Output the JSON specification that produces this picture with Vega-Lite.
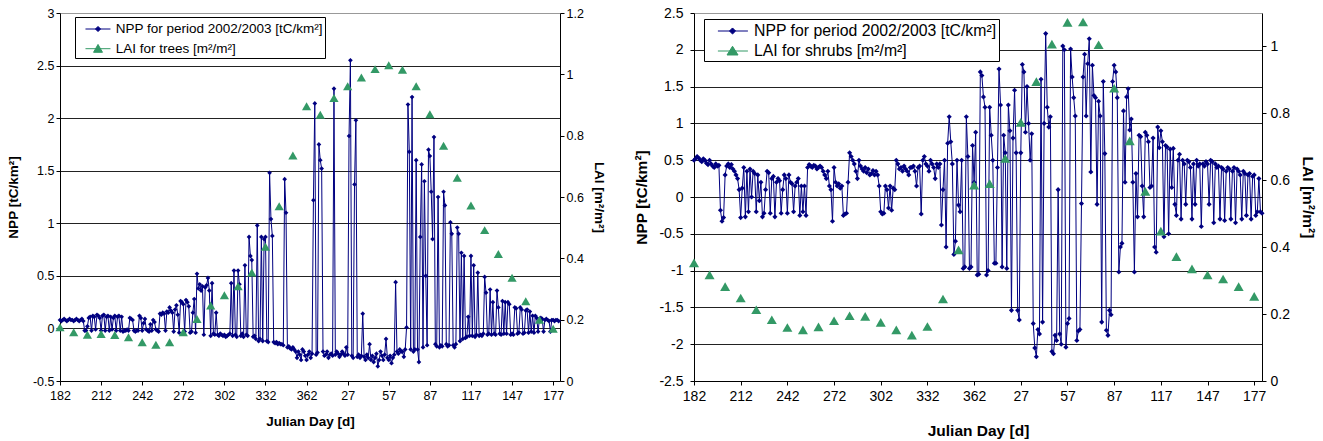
{
"$schema":"https://vega.github.io/schema/vega-lite/v6.json",
"background":"white",
"padding":{"left":6,"top":6,"right":5,"bottom":0},
"config":{"font":"Liberation Sans","view":{"stroke":null},"axis":{"labelFont":"Liberation Sans","titleFont":"Liberation Sans","labelColor":"#000","titleColor":"#000","domainColor":"#000","tickColor":"#000","titleFontWeight":"bold","labelOverlap":false}},
"datasets":{
"nppT":[{"d":0,"v":0.08},{"d":1,"v":0.07},{"d":2,"v":0.08},{"d":3,"v":0.09},{"d":4,"v":0.08},{"d":5,"v":0.07},{"d":6,"v":0.08},{"d":7,"v":0.09},{"d":8,"v":0.08},{"d":9,"v":0.08},
{"d":10,"v":0.07},{"d":11,"v":0.08},{"d":12,"v":0.09},{"d":13,"v":0.08},{"d":14,"v":0.07},{"d":15,"v":0.08},{"d":16,"v":0.09},{"d":17,"v":0.07},{"d":18,"v":-0.02},{"d":19,"v":-0.02},
{"d":20,"v":0.02},{"d":21,"v":0.1},{"d":22,"v":0.11},{"d":23,"v":-0.02},{"d":24,"v":0.12},{"d":25,"v":0.11},{"d":26,"v":-0.01},{"d":27,"v":0.13},{"d":28,"v":0.12},{"d":29,"v":0.1},
{"d":30,"v":-0.02},{"d":31,"v":0.12},{"d":32,"v":0.13},{"d":33,"v":-0.02},{"d":34,"v":0.11},{"d":35,"v":0.12},{"d":36,"v":-0.02},{"d":37,"v":0.11},{"d":38,"v":-0.01},{"d":39,"v":0.1},
{"d":40,"v":0.12},{"d":41,"v":-0.02},{"d":42,"v":0.11},{"d":43,"v":0.12},{"d":44,"v":-0.02},{"d":45,"v":0.11},{"d":46,"v":-0.03},{"d":47,"v":-0.02},{"d":48,"v":-0.02},{"d":49,"v":-0.01},
{"d":50,"v":-0.02},{"d":51,"v":0.1},{"d":52,"v":0.09},{"d":53,"v":0.08},{"d":54,"v":-0.02},{"d":55,"v":-0.03},{"d":56,"v":-0.02},{"d":57,"v":-0.02},{"d":58,"v":0.12},{"d":59,"v":0.1},
{"d":60,"v":-0.02},{"d":61,"v":0.05},{"d":62,"v":0.09},{"d":63,"v":-0.01},{"d":64,"v":-0.02},{"d":65,"v":-0.03},{"d":66,"v":0.04},{"d":67,"v":-0.02},{"d":68,"v":0.08},{"d":69,"v":0.06},
{"d":70,"v":-0.01},{"d":71,"v":-0.02},{"d":72,"v":-0.03},{"d":73,"v":0.14},{"d":74,"v":0.13},{"d":75,"v":0.15},{"d":76,"v":0.14},{"d":77,"v":-0.02},{"d":78,"v":0.16},{"d":79,"v":0.15},
{"d":80,"v":0.2},{"d":81,"v":0.17},{"d":82,"v":0.15},{"d":83,"v":-0.03},{"d":84,"v":0.18},{"d":85,"v":0.22},{"d":86,"v":0.13},{"d":87,"v":-0.04},{"d":88,"v":0.26},{"d":89,"v":0.25},
{"d":90,"v":0.23},{"d":91,"v":-0.03},{"d":92,"v":0.27},{"d":93,"v":0.25},{"d":94,"v":0.21},{"d":95,"v":-0.04},{"d":96,"v":-0.03},{"d":97,"v":0.15},{"d":98,"v":0.28},{"d":99,"v":-0.04},
{"d":100,"v":0.52},{"d":101,"v":0.38},{"d":102,"v":0.42},{"d":103,"v":0.36},{"d":104,"v":0.4},{"d":105,"v":-0.06},{"d":106,"v":0.39},{"d":107,"v":0.41},{"d":108,"v":0.48},{"d":109,"v":0.36},
{"d":110,"v":-0.07},{"d":111,"v":0.43},{"d":112,"v":-0.05},{"d":113,"v":-0.06},{"d":114,"v":0.15},{"d":115,"v":-0.06},{"d":116,"v":-0.07},{"d":117,"v":-0.05},{"d":118,"v":-0.06},{"d":119,"v":-0.07},
{"d":120,"v":-0.06},{"d":121,"v":-0.08},{"d":122,"v":-0.07},{"d":123,"v":-0.06},{"d":124,"v":-0.05},{"d":125,"v":0.43},{"d":126,"v":-0.07},{"d":127,"v":0.55},{"d":128,"v":-0.06},{"d":129,"v":-0.08},
{"d":130,"v":0.55},{"d":131,"v":0.42},{"d":132,"v":-0.07},{"d":133,"v":-0.05},{"d":134,"v":-0.08},{"d":135,"v":0.6},{"d":136,"v":-0.06},{"d":137,"v":-0.07},{"d":138,"v":0.87},{"d":139,"v":0.69},
{"d":140,"v":0.65},{"d":141,"v":-0.08},{"d":142,"v":-0.07},{"d":143,"v":-0.1},{"d":144,"v":0.98},{"d":145,"v":-0.12},{"d":146,"v":-0.1},{"d":147,"v":0.87},{"d":148,"v":-0.12},{"d":149,"v":0.85},
{"d":150,"v":0.87},{"d":151,"v":-0.12},{"d":152,"v":-0.13},{"d":153,"v":1.48},{"d":154,"v":1.04},{"d":155,"v":0.88},{"d":156,"v":-0.13},{"d":157,"v":-0.14},{"d":158,"v":-0.13},{"d":159,"v":-0.15},
{"d":160,"v":-0.14},{"d":161,"v":-0.15},{"d":162,"v":-0.15},{"d":163,"v":-0.16},{"d":164,"v":1.42},{"d":165,"v":1.1},{"d":166,"v":-0.18},{"d":167,"v":-0.17},{"d":168,"v":-0.19},{"d":169,"v":-0.2},
{"d":170,"v":-0.18},{"d":171,"v":-0.2},{"d":172,"v":-0.22},{"d":173,"v":-0.28},{"d":174,"v":-0.22},{"d":175,"v":-0.25},{"d":176,"v":-0.3},{"d":177,"v":-0.2},{"d":178,"v":-0.22},{"d":179,"v":-0.26},
{"d":180,"v":-0.3},{"d":181,"v":-0.25},{"d":182,"v":-0.22},{"d":183,"v":-0.28},{"d":184,"v":-0.24},{"d":185,"v":1.22},{"d":186,"v":2.14},{"d":187,"v":-0.25},{"d":188,"v":-0.23},{"d":189,"v":1.75},
{"d":190,"v":1.6},{"d":191,"v":1.52},{"d":192,"v":-0.22},{"d":193,"v":-0.26},{"d":194,"v":-0.25},{"d":195,"v":-0.22},{"d":196,"v":-0.28},{"d":197,"v":-0.25},{"d":198,"v":-0.24},{"d":199,"v":-0.26},
{"d":200,"v":2.28},{"d":201,"v":-0.25},{"d":202,"v":-0.22},{"d":203,"v":-0.24},{"d":204,"v":-0.27},{"d":205,"v":-0.25},{"d":206,"v":-0.22},{"d":207,"v":-0.24},{"d":208,"v":-0.26},{"d":209,"v":-0.18},
{"d":210,"v":-0.25},{"d":211,"v":1.83},{"d":212,"v":2.55},{"d":213,"v":-0.26},{"d":214,"v":-0.28},{"d":215,"v":1.37},{"d":216,"v":1.98},{"d":217,"v":-0.27},{"d":218,"v":-0.25},{"d":219,"v":-0.28},
{"d":220,"v":-0.26},{"d":221,"v":0.14},{"d":222,"v":-0.27},{"d":223,"v":-0.3},{"d":224,"v":-0.25},{"d":225,"v":-0.28},{"d":226,"v":-0.15},{"d":227,"v":-0.3},{"d":228,"v":-0.26},{"d":229,"v":-0.32},
{"d":230,"v":-0.28},{"d":231,"v":-0.24},{"d":232,"v":-0.36},{"d":233,"v":-0.3},{"d":234,"v":-0.22},{"d":235,"v":-0.26},{"d":236,"v":-0.3},{"d":237,"v":-0.25},{"d":238,"v":-0.1},{"d":239,"v":-0.28},
{"d":240,"v":-0.3},{"d":241,"v":-0.26},{"d":242,"v":-0.33},{"d":243,"v":-0.28},{"d":244,"v":-0.25},{"d":245,"v":0.44},{"d":246,"v":-0.22},{"d":247,"v":-0.24},{"d":248,"v":-0.2},{"d":249,"v":-0.22},
{"d":250,"v":-0.22},{"d":251,"v":-0.27},{"d":252,"v":-0.2},{"d":253,"v":0.01},{"d":254,"v":2.13},{"d":255,"v":1.68},{"d":256,"v":-0.2},{"d":257,"v":2.2},{"d":258,"v":-0.22},{"d":259,"v":-0.2},
{"d":260,"v":1.6},{"d":261,"v":-0.2},{"d":262,"v":-0.32},{"d":263,"v":0.87},{"d":264,"v":1.56},{"d":265,"v":-0.18},{"d":266,"v":1.4},{"d":267,"v":0.5},{"d":268,"v":-0.16},{"d":269,"v":1.7},
{"d":270,"v":1.64},{"d":271,"v":1.3},{"d":272,"v":0.85},{"d":273,"v":1.82},{"d":274,"v":-0.15},{"d":275,"v":-0.17},{"d":276,"v":1.25},{"d":277,"v":-0.18},{"d":278,"v":-0.16},{"d":279,"v":-0.17},
{"d":280,"v":1.3},{"d":281,"v":1.17},{"d":282,"v":-0.15},{"d":283,"v":-0.17},{"d":284,"v":-0.16},{"d":285,"v":1.01},{"d":286,"v":0.9},{"d":287,"v":-0.16},{"d":288,"v":-0.18},{"d":289,"v":-0.15},
{"d":290,"v":0.96},{"d":291,"v":0.9},{"d":292,"v":-0.12},{"d":293,"v":0.72},{"d":294,"v":-0.1},{"d":295,"v":0.69},{"d":296,"v":-0.09},{"d":297,"v":-0.08},{"d":298,"v":0.11},{"d":299,"v":-0.07},
{"d":300,"v":0.69},{"d":301,"v":-0.07},{"d":302,"v":0.6},{"d":303,"v":-0.08},{"d":304,"v":-0.06},{"d":305,"v":0.53},{"d":306,"v":-0.07},{"d":307,"v":-0.06},{"d":308,"v":-0.07},{"d":309,"v":-0.05},
{"d":310,"v":0.49},{"d":311,"v":0.34},{"d":312,"v":-0.06},{"d":313,"v":-0.05},{"d":314,"v":0.37},{"d":315,"v":-0.06},{"d":316,"v":0.25},{"d":317,"v":-0.05},{"d":318,"v":-0.06},{"d":319,"v":0.36},
{"d":320,"v":0.2},{"d":321,"v":-0.05},{"d":322,"v":-0.06},{"d":323,"v":0.26},{"d":324,"v":-0.05},{"d":325,"v":0.25},{"d":326,"v":-0.05},{"d":327,"v":0.25},{"d":328,"v":0.23},{"d":329,"v":-0.06},
{"d":330,"v":-0.05},{"d":331,"v":-0.06},{"d":332,"v":0.2},{"d":333,"v":0.19},{"d":334,"v":-0.05},{"d":335,"v":-0.04},{"d":336,"v":0.2},{"d":337,"v":0.18},{"d":338,"v":-0.05},{"d":339,"v":-0.04},
{"d":340,"v":0.17},{"d":341,"v":0.18},{"d":342,"v":-0.04},{"d":343,"v":0.16},{"d":344,"v":-0.03},{"d":345,"v":0.12},{"d":346,"v":-0.04},{"d":347,"v":0.12},{"d":348,"v":0.1},{"d":349,"v":-0.03},
{"d":350,"v":0.09},{"d":351,"v":0.1},{"d":352,"v":0.09},{"d":353,"v":-0.03},{"d":354,"v":0.08},{"d":355,"v":0.09},{"d":356,"v":0.08},{"d":357,"v":0.07},{"d":358,"v":-0.03},{"d":359,"v":0.08},
{"d":360,"v":0.08},{"d":361,"v":0.07},{"d":362,"v":0.08},{"d":363,"v":0.08},{"d":364,"v":0.07}],
"laiT":[{"d":0,"v":0.175},{"d":10,"v":0.159},{"d":20,"v":0.151},{"d":30,"v":0.153},{"d":40,"v":0.15},{"d":50,"v":0.143},{"d":60,"v":0.126},{"d":70,"v":0.118},{"d":80,"v":0.126},{"d":90,"v":0.159},{"d":100,"v":0.202},{"d":110,"v":0.246},{"d":120,"v":0.28},{"d":130,"v":0.309},{"d":140,"v":0.354},{"d":150,"v":0.438},{"d":160,"v":0.57},{"d":170,"v":0.735},{"d":180,"v":0.896},{"d":190,"v":0.868},{"d":200,"v":0.923},{"d":210,"v":0.961},{"d":220,"v":0.99},{"d":230,"v":1.017},{"d":240,"v":1.03},{"d":250,"v":1.015},{"d":260,"v":0.961},{"d":270,"v":0.87},{"d":280,"v":0.767},{"d":290,"v":0.663},{"d":300,"v":0.572},{"d":310,"v":0.492},{"d":320,"v":0.414},{"d":330,"v":0.337},{"d":340,"v":0.26},{"d":350,"v":0.2},{"d":360,"v":0.17}],
"nppS":[{"d":0,"v":0.5},{"d":1,"v":0.52},{"d":2,"v":0.55},{"d":3,"v":0.53},{"d":4,"v":0.5},{"d":5,"v":0.48},{"d":6,"v":0.52},{"d":7,"v":0.5},{"d":8,"v":0.46},{"d":9,"v":0.44},
{"d":10,"v":0.5},{"d":11,"v":0.45},{"d":12,"v":0.42},{"d":13,"v":0.4},{"d":14,"v":0.45},{"d":15,"v":0.42},{"d":16,"v":0.43},{"d":17,"v":-0.18},{"d":18,"v":-0.33},{"d":19,"v":-0.28},
{"d":20,"v":0.3},{"d":21,"v":0.42},{"d":22,"v":0.45},{"d":23,"v":0.4},{"d":24,"v":0.44},{"d":25,"v":0.38},{"d":26,"v":0.35},{"d":27,"v":0.3},{"d":28,"v":0.25},{"d":29,"v":0.1},
{"d":30,"v":-0.28},{"d":31,"v":0.12},{"d":32,"v":0.4},{"d":33,"v":-0.27},{"d":34,"v":0.35},{"d":35,"v":-0.2},{"d":36,"v":0.38},{"d":37,"v":0},{"d":38,"v":0.35},{"d":39,"v":0.32},
{"d":40,"v":-0.2},{"d":41,"v":0.3},{"d":42,"v":-0.05},{"d":43,"v":0.2},{"d":44,"v":-0.27},{"d":45,"v":-0.22},{"d":46,"v":0.1},{"d":47,"v":0.35},{"d":48,"v":0.33},{"d":49,"v":-0.22},
{"d":50,"v":0.25},{"d":51,"v":0.28},{"d":52,"v":-0.27},{"d":53,"v":0.2},{"d":54,"v":0.25},{"d":55,"v":0.22},{"d":56,"v":-0.22},{"d":57,"v":0.1},{"d":58,"v":0.3},{"d":59,"v":0.25},
{"d":60,"v":-0.22},{"d":61,"v":0.3},{"d":62,"v":0.2},{"d":63,"v":0.18},{"d":64,"v":-0.2},{"d":65,"v":0.15},{"d":66,"v":0.2},{"d":67,"v":0.25},{"d":68,"v":-0.25},{"d":69,"v":0.15},
{"d":70,"v":-0.2},{"d":71,"v":0.15},{"d":72,"v":-0.25},{"d":73,"v":0.4},{"d":74,"v":0.44},{"d":75,"v":0.42},{"d":76,"v":0.4},{"d":77,"v":0.43},{"d":78,"v":0.42},{"d":79,"v":0.38},
{"d":80,"v":0.4},{"d":81,"v":0.42},{"d":82,"v":0.4},{"d":83,"v":0.35},{"d":84,"v":0.3},{"d":85,"v":0.25},{"d":86,"v":0.35},{"d":87,"v":0.15},{"d":88,"v":0.1},{"d":89,"v":-0.33},
{"d":90,"v":0.4},{"d":91,"v":0.2},{"d":92,"v":0.15},{"d":93,"v":0.18},{"d":94,"v":0.12},{"d":95,"v":0.15},{"d":96,"v":-0.25},{"d":97,"v":-0.23},{"d":98,"v":-0.22},{"d":99,"v":0.2},
{"d":100,"v":0.6},{"d":101,"v":0.55},{"d":102,"v":0.5},{"d":103,"v":0.45},{"d":104,"v":0.35},{"d":105,"v":0.25},{"d":106,"v":0.5},{"d":107,"v":0.42},{"d":108,"v":0.38},{"d":109,"v":0.35},
{"d":110,"v":0.4},{"d":111,"v":0.33},{"d":112,"v":0.38},{"d":113,"v":0.3},{"d":114,"v":0.32},{"d":115,"v":0.36},{"d":116,"v":0.3},{"d":117,"v":0.35},{"d":118,"v":0.3},{"d":119,"v":0.15},
{"d":120,"v":-0.2},{"d":121,"v":-0.23},{"d":122,"v":-0.22},{"d":123,"v":0.15},{"d":124,"v":0.1},{"d":125,"v":-0.15},{"d":126,"v":0.15},{"d":127,"v":-0.18},{"d":128,"v":0.12},{"d":129,"v":0.1},
{"d":130,"v":0.5},{"d":131,"v":0.45},{"d":132,"v":0.38},{"d":133,"v":0.4},{"d":134,"v":0.35},{"d":135,"v":0.42},{"d":136,"v":0.38},{"d":137,"v":0.35},{"d":138,"v":0.3},{"d":139,"v":0.4},
{"d":140,"v":0.4},{"d":141,"v":0.42},{"d":142,"v":0.35},{"d":143,"v":0.15},{"d":144,"v":0.4},{"d":145,"v":0.42},{"d":146,"v":-0.23},{"d":147,"v":0.5},{"d":148,"v":0.55},{"d":149,"v":0.45},
{"d":150,"v":0.42},{"d":151,"v":0.35},{"d":152,"v":0.5},{"d":153,"v":0.45},{"d":154,"v":0.4},{"d":155,"v":0.25},{"d":156,"v":0.45},{"d":157,"v":0.4},{"d":158,"v":0.45},{"d":159,"v":-0.38},
{"d":160,"v":0.1},{"d":161,"v":0.5},{"d":162,"v":-0.68},{"d":163,"v":0.73},{"d":164,"v":1.09},{"d":165,"v":0.75},{"d":166,"v":0.45},{"d":167,"v":-0.78},{"d":168,"v":-0.6},{"d":169,"v":0.5},
{"d":170,"v":-0.11},{"d":171,"v":-0.2},{"d":172,"v":0.5},{"d":173,"v":-0.97},{"d":174,"v":-0.95},{"d":175,"v":1.09},{"d":176,"v":0.55},{"d":177,"v":-0.97},{"d":178,"v":-0.95},{"d":179,"v":0.7},
{"d":180,"v":0.2},{"d":181,"v":0.88},{"d":182,"v":-1.06},{"d":183,"v":-1.05},{"d":184,"v":1.7},{"d":185,"v":1.65},{"d":186,"v":1.36},{"d":187,"v":1.22},{"d":188,"v":-1.06},{"d":189,"v":-1},
{"d":190,"v":1.22},{"d":191,"v":0.84},{"d":192,"v":0.5},{"d":193,"v":-0.9},{"d":194,"v":-0.9},{"d":195,"v":0.4},{"d":196,"v":1.74},{"d":197,"v":1.25},{"d":198,"v":-0.95},{"d":199,"v":0.84},
{"d":200,"v":0.6},{"d":201,"v":-0.97},{"d":202,"v":1.25},{"d":203,"v":0.9},{"d":204,"v":-1.54},{"d":205,"v":0.8},{"d":206,"v":1.45},{"d":207,"v":0.6},{"d":208,"v":-1.54},{"d":209,"v":-1.67},
{"d":210,"v":0.6},{"d":211,"v":1.8},{"d":212,"v":1.7},{"d":213,"v":0.88},{"d":214,"v":1.5},{"d":215,"v":1},{"d":216,"v":0.5},{"d":217,"v":0.86},{"d":218,"v":-1.72},{"d":219,"v":-2.05},
{"d":220,"v":-2.17},{"d":221,"v":-1.8},{"d":222,"v":-1.86},{"d":223,"v":1.6},{"d":224,"v":-1.7},{"d":225,"v":1},{"d":226,"v":2.22},{"d":227,"v":1.22},{"d":228,"v":0.95},{"d":229,"v":1.09},
{"d":230,"v":-2.1},{"d":231,"v":-2.13},{"d":232,"v":-1.88},{"d":233,"v":-1.95},{"d":234,"v":0.1},{"d":235,"v":-1.86},{"d":236,"v":-2},{"d":237,"v":2.05},{"d":238,"v":2},{"d":239,"v":-2.04},
{"d":240,"v":-1.72},{"d":241,"v":-1.65},{"d":242,"v":2.01},{"d":243,"v":1.63},{"d":244,"v":1.35},{"d":245,"v":1.1},{"d":246,"v":-1.95},{"d":247,"v":-1.82},{"d":248,"v":-1.8},{"d":249,"v":-0.09},
{"d":250,"v":1.63},{"d":251,"v":1.94},{"d":252,"v":1.1},{"d":253,"v":1.81},{"d":254,"v":2.15},{"d":255,"v":0.34},{"d":256,"v":1.79},{"d":257,"v":1.38},{"d":258,"v":1.35},{"d":259,"v":-0.1},
{"d":260,"v":1.3},{"d":261,"v":1.1},{"d":262,"v":-1.7},{"d":263,"v":1.57},{"d":264,"v":0.59},{"d":265,"v":-1.81},{"d":266,"v":-1.88},{"d":267,"v":-1.54},{"d":268,"v":-1.6},{"d":269,"v":1.57},
{"d":270,"v":1.79},{"d":271,"v":1.7},{"d":272,"v":1.35},{"d":273,"v":-1.02},{"d":274,"v":-0.68},{"d":275,"v":-0.63},{"d":276,"v":1.17},{"d":277,"v":0.2},{"d":278,"v":1.36},{"d":279,"v":1.47},
{"d":280,"v":0.91},{"d":281,"v":1.06},{"d":282,"v":0.2},{"d":283,"v":-1.02},{"d":284,"v":0.32},{"d":285,"v":-0.27},{"d":286,"v":0.84},{"d":287,"v":0.82},{"d":288,"v":0.15},{"d":289,"v":-0.27},
{"d":290,"v":0.88},{"d":291,"v":0.84},{"d":292,"v":0.75},{"d":293,"v":0.13},{"d":294,"v":0.15},{"d":295,"v":0.8},{"d":296,"v":-0.68},{"d":297,"v":-0.75},{"d":298,"v":0.95},{"d":299,"v":0.67},
{"d":300,"v":0.9},{"d":301,"v":0.75},{"d":302,"v":-0.54},{"d":303,"v":0.7},{"d":304,"v":0.68},{"d":305,"v":-0.5},{"d":306,"v":0.65},{"d":307,"v":0.13},{"d":308,"v":0.66},{"d":309,"v":-0.1},
{"d":310,"v":-0.25},{"d":311,"v":0.5},{"d":312,"v":0.58},{"d":313,"v":-0.3},{"d":314,"v":0.5},{"d":315,"v":0.45},{"d":316,"v":-0.1},{"d":317,"v":0.5},{"d":318,"v":0.48},{"d":319,"v":0.4},
{"d":320,"v":-0.3},{"d":321,"v":0.45},{"d":322,"v":-0.1},{"d":323,"v":0.5},{"d":324,"v":0.42},{"d":325,"v":0.45},{"d":326,"v":-0.4},{"d":327,"v":0.45},{"d":328,"v":0.42},{"d":329,"v":0.48},
{"d":330,"v":0.45},{"d":331,"v":-0.1},{"d":332,"v":0.5},{"d":333,"v":0.48},{"d":334,"v":-0.35},{"d":335,"v":0.45},{"d":336,"v":0.4},{"d":337,"v":0.42},{"d":338,"v":-0.3},{"d":339,"v":0.4},
{"d":340,"v":0.38},{"d":341,"v":-0.32},{"d":342,"v":0.35},{"d":343,"v":0.4},{"d":344,"v":0.38},{"d":345,"v":-0.3},{"d":346,"v":0.35},{"d":347,"v":0.4},{"d":348,"v":-0.35},{"d":349,"v":0.38},
{"d":350,"v":0.35},{"d":351,"v":0.3},{"d":352,"v":-0.3},{"d":353,"v":0.35},{"d":354,"v":0.32},{"d":355,"v":-0.25},{"d":356,"v":0.3},{"d":357,"v":0.32},{"d":358,"v":-0.3},{"d":359,"v":0.28},
{"d":360,"v":0.3},{"d":361,"v":-0.25},{"d":362,"v":-0.2},{"d":363,"v":0.25},{"d":364,"v":-0.2},{"d":365,"v":-0.22}],
"laiS":[{"d":0,"v":0.353},{"d":10,"v":0.317},{"d":20,"v":0.282},{"d":30,"v":0.248},{"d":40,"v":0.213},{"d":50,"v":0.183},{"d":60,"v":0.16},{"d":70,"v":0.153},{"d":80,"v":0.162},{"d":90,"v":0.18},{"d":100,"v":0.195},{"d":110,"v":0.193},{"d":120,"v":0.175},{"d":130,"v":0.153},{"d":140,"v":0.137},{"d":150,"v":0.163},{"d":160,"v":0.245},{"d":170,"v":0.392},{"d":180,"v":0.585},{"d":190,"v":0.59},{"d":200,"v":0.665},{"d":210,"v":0.773},{"d":220,"v":0.895},{"d":230,"v":1.007},{"d":240,"v":1.072},{"d":250,"v":1.073},{"d":260,"v":1.005},{"d":270,"v":0.875},{"d":280,"v":0.718},{"d":290,"v":0.567},{"d":300,"v":0.448},{"d":310,"v":0.372},{"d":320,"v":0.335},{"d":330,"v":0.317},{"d":340,"v":0.305},{"d":350,"v":0.282},{"d":360,"v":0.253}]
},
"hconcat":[
{
"width":500,"height":368,
"encoding":{"x":{"field":"d","type":"quantitative","scale":{"domain":[0,365],"nice":false,"zero":false},
 "axis":{"values":[0,30,60,90,120,150,180,210,240,270,300,330,360],"tickCount":30,"labelExpr":"(datum.value + 182 > 365 ? datum.value + 182 - 365 : datum.value + 182) + ''","title":"Julian Day [d]","grid":false,"tickSize":4,"labelFontSize":12.5,"titleFontSize":13.5,"labelPadding":4,"titlePadding":13,"labelFlush":false,"labelOverlap":false}}},
"layer":[
 {"layer":[
  {"data":{"name":"nppT"},"mark":{"type":"line","strokeWidth":1},
   "encoding":{"y":{"field":"v","type":"quantitative","scale":{"domain":[-0.5,3],"nice":false,"zero":false},
     "axis":{"values":[-0.5,0,0.5,1,1.5,2,2.5,3],"tickCount":30,"labelExpr":"datum.value + ''","title":"NPP [tC/km²]","grid":true,"gridColor":{"condition":{"test":"datum.value === 3","value":"#999999"},"value":"#222222"},"tickSize":4,"labelFontSize":12.5,"titleFontSize":13.5,"titlePadding":12,"labelFlush":false,"labelOverlap":false}},
    "color":{"datum":"NPP for period 2002/2003 [tC/km²]","type":"nominal","scale":{"domain":["NPP for period 2002/2003 [tC/km²]","LAI for trees [m²/m²]"],"range":["#000080","#339966"]},
     "legend":{"title":null,"orient":"none","legendX":15,"legendY":4,"direction":"vertical","strokeColor":"#000","fillColor":"#fff","padding":2,"symbolSize":361,"rowPadding":2.7,"labelOffset":18.7,"labelFont":"Liberation Sans","labelFontSize":13.5,"labelColor":"#000","labelLimit":400,
      "encode":{"symbols":{"update":{
        "shape":{"signal":"indexof(datum.value,'NPP')===0 ? 'M-0.16,0H2.47M1.16,-0.27L1.43,0L1.16,0.27L0.89,0Z' : 'M-0.16,0H2.47M1.16,-0.45L1.63,0.38L0.69,0.38Z'"},
        "fill":{"signal":"indexof(datum.value,'NPP')===0 ? '#000080' : '#339966'"},
        "stroke":{"signal":"indexof(datum.value,'NPP')===0 ? '#000080' : '#339966'"},
        "strokeWidth":{"value":1},"opacity":{"value":1},"fillOpacity":{"value":1},"strokeOpacity":{"value":1}}}}}}}},
  {"data":{"name":"nppT"},"mark":{"type":"point","shape":"diamond","filled":true,"size":22,"opacity":1},
   "encoding":{"y":{"field":"v","type":"quantitative"},"color":{"datum":"NPP for period 2002/2003 [tC/km²]","type":"nominal"}}}
 ]},
 {"data":{"name":"laiT"},"mark":{"type":"point","shape":"triangle-up","filled":true,"size":85,"opacity":1},
  "encoding":{"y":{"field":"v","type":"quantitative","scale":{"domain":[0,1.2],"nice":false,"zero":false},
    "axis":{"orient":"right","values":[0,0.2,0.4,0.6,0.8,1,1.2],"tickCount":30,"labelExpr":"datum.value + ''","title":"LAI [m²/m²]","grid":false,"tickSize":4,"labelFontSize":12.5,"titleFontSize":13.5,"titlePadding":8,"labelFlush":false,"labelOverlap":false}},
   "color":{"datum":"LAI for trees [m²/m²]","type":"nominal"}}}
],
"resolve":{"scale":{"y":"independent"}}
},
{
"width":568,"height":368,
"encoding":{"x":{"field":"d","type":"quantitative","scale":{"domain":[0,365],"nice":false,"zero":false},
 "axis":{"values":[0,30,60,90,120,150,180,210,240,270,300,330,360],"tickCount":30,"labelExpr":"(datum.value + 182 > 365 ? datum.value + 182 - 365 : datum.value + 182) + ''","title":"Julian Day [d]","grid":false,"tickSize":4,"labelFontSize":14,"titleFontSize":15.5,"labelPadding":4,"titlePadding":20,"labelFlush":false,"labelOverlap":false}}},
"layer":[
 {"layer":[
  {"data":{"name":"nppS"},"mark":{"type":"line","strokeWidth":1},
   "encoding":{"y":{"field":"v","type":"quantitative","scale":{"domain":[-2.5,2.5],"nice":false,"zero":false},
     "axis":{"values":[-2.5,-2,-1.5,-1,-0.5,0,0.5,1,1.5,2,2.5],"tickCount":30,"labelExpr":"datum.value + ''","title":"NPP [tC/km²]","grid":true,"gridColor":{"condition":{"test":"datum.value === 2.5","value":"#999999"},"value":"#222222"},"tickSize":4,"labelPadding":7,"labelFontSize":14,"titleFontSize":15.5,"titlePadding":9,"labelFlush":false,"labelOverlap":false}},
    "color":{"datum":"NPP for period 2002/2003 [tC/km²]","type":"nominal","scale":{"domain":["NPP for period 2002/2003 [tC/km²]","LAI for shrubs [m²/m²]"],"range":["#000080","#339966"]},
     "legend":{"title":null,"orient":"none","legendX":10,"legendY":6,"direction":"vertical","strokeColor":"#000","fillColor":"#fff","padding":2,"symbolSize":361,"rowPadding":2,"labelOffset":28,"labelFont":"Liberation Sans","labelFontSize":15.8,"labelColor":"#000","labelLimit":400,
      "encode":{"symbols":{"update":{
        "shape":{"signal":"indexof(datum.value,'NPP')===0 ? 'M0.2,0H3.36M1.74,-0.32L2.06,0L1.74,0.32L1.42,0Z' : 'M0.2,0H3.36M1.74,-0.5L2.32,0.42L1.16,0.42Z'"},
        "fill":{"signal":"indexof(datum.value,'NPP')===0 ? '#000080' : '#339966'"},
        "stroke":{"signal":"indexof(datum.value,'NPP')===0 ? '#000080' : '#339966'"},
        "strokeWidth":{"value":1},"opacity":{"value":1},"fillOpacity":{"value":1},"strokeOpacity":{"value":1}}}}}}}},
  {"data":{"name":"nppS"},"mark":{"type":"point","shape":"diamond","filled":true,"size":26,"opacity":1},
   "encoding":{"y":{"field":"v","type":"quantitative"},"color":{"datum":"NPP for period 2002/2003 [tC/km²]","type":"nominal"}}}
 ]},
 {"data":{"name":"laiS"},"mark":{"type":"point","shape":"triangle-up","filled":true,"size":100,"opacity":1},
  "encoding":{"y":{"field":"v","type":"quantitative","scale":{"domain":[0,1.1],"nice":false,"zero":false},
    "axis":{"orient":"right","values":[0,0.2,0.4,0.6,0.8,1],"tickCount":30,"labelExpr":"datum.value + ''","title":"LAI [m²/m²]","grid":false,"tickSize":4,"labelPadding":4,"labelFontSize":14,"titleFontSize":15.5,"titlePadding":10,"labelFlush":false,"labelOverlap":false}},
   "color":{"datum":"LAI for shrubs [m²/m²]","type":"nominal"}}}
],
"resolve":{"scale":{"y":"independent"}}
}
],
"spacing":28,
"resolve":{"scale":{"color":"independent"},"legend":{"color":"independent"}}
}
